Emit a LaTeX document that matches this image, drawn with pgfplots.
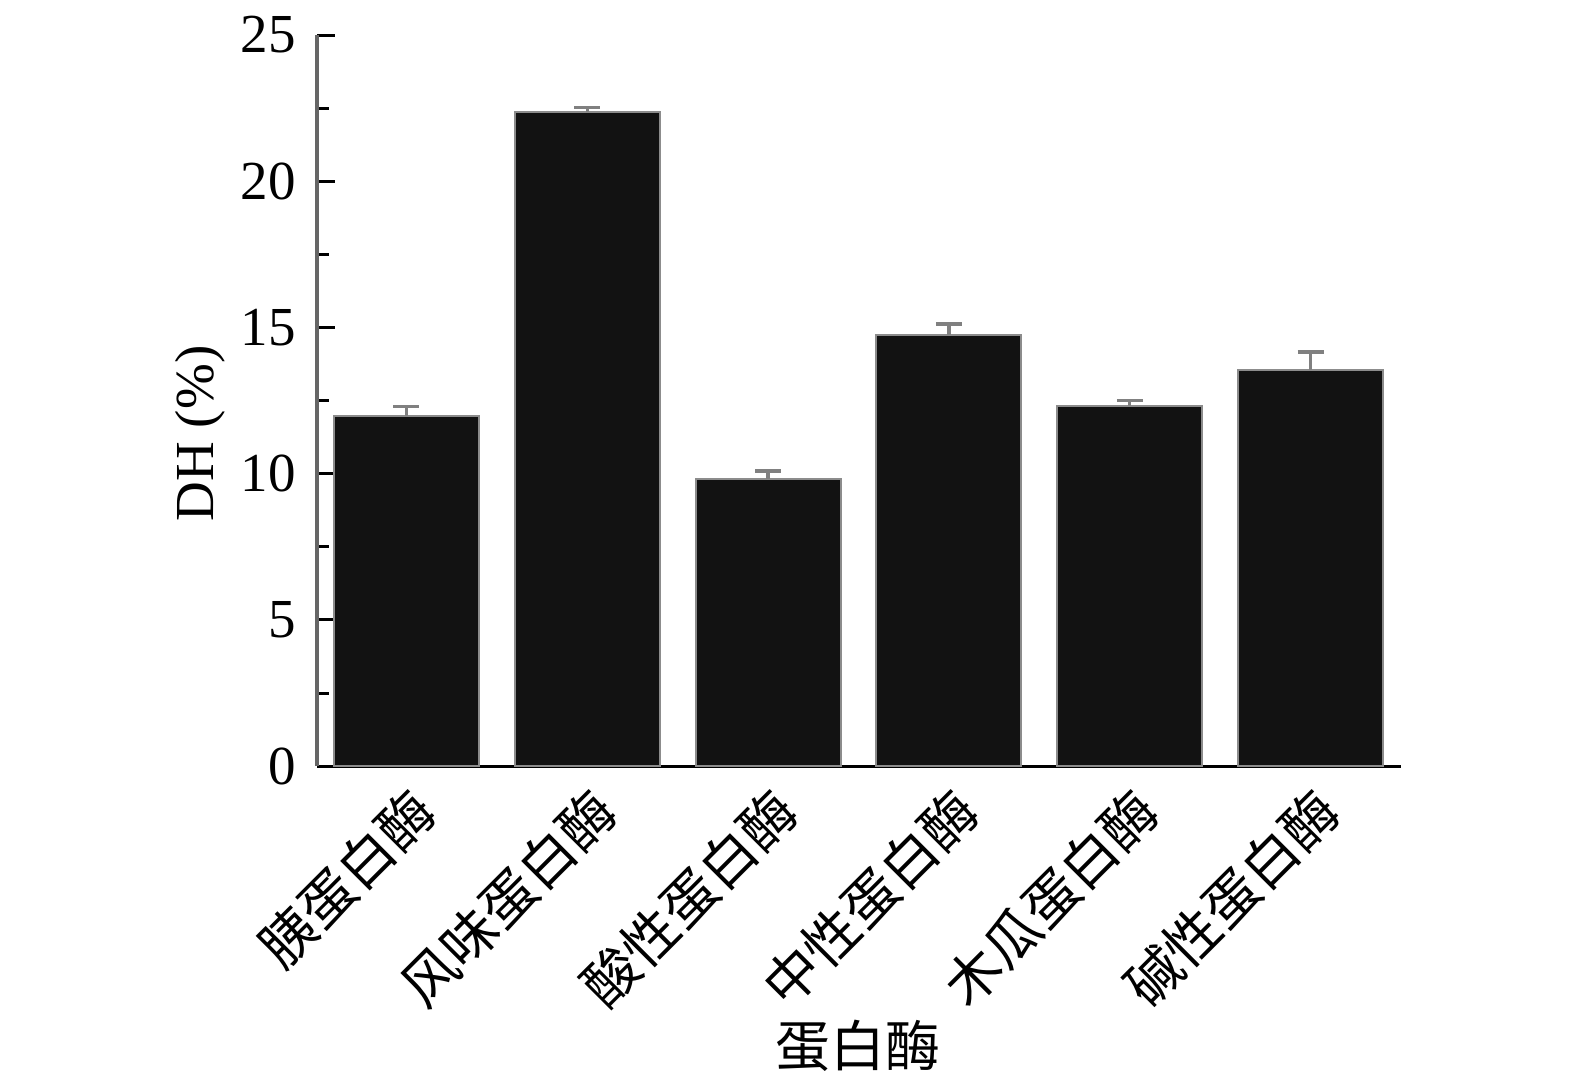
\documentclass[border=0pt]{standalone}
\usepackage{pgfplots}
\pgfplotsset{compat=1.18}
\usepackage{fontspec}
\setmainfont{Liberation Serif}
\newfontfamily\cjk{Noto Sans CJK SC}
\pgfplotstableread{
x y e
0 11.97 0.32
1 22.36 0.17
2 9.82 0.27
3 14.74 0.38
4 12.33 0.18
5 13.53 0.63
}\dhdata
\begin{document}
\begin{tikzpicture}
\begin{axis}[
  scale only axis, width=325pt, height=219.3pt,
  xmin=-0.492, xmax=5.5, ymin=0, ymax=25,
  clip=false,
  axis x line=bottom, axis y line=left,
  x axis line style={-, black, line width=0.9pt},
  y axis line style={-, black!60, line width=1.2pt},
  xtick={0,1,2,3,4,5},
  xticklabels={胰蛋白酶,风味蛋白酶,酸性蛋白酶,中性蛋白酶,木瓜蛋白酶,碱性蛋白酶},
  xtick style={draw=none},
  xticklabel style={font=\cjk\fontsize{16.5}{19}\selectfont, anchor=east, xshift=8pt, yshift=-8pt, rotate=45},
  ytick={0,5,10,15,20,25},
  minor ytick={2.5,7.5,12.5,17.5,22.5},
  tick align=inside,
  major tick length=5.4pt, minor tick length=3.6pt,
  ytick style={black, line width=0.9pt},
  yticklabel style={font=\fontsize{16.5}{19}\selectfont, xshift=-3pt},
  /pgf/number format/assume math mode=true,
  ylabel={DH (\%)},
  every axis y label/.style={at={(rel axis cs:-0.108,0.455)}, rotate=90, anchor=center, font=\fontsize{16.5}{19}\selectfont},
  xlabel={蛋白酶},
  every axis x label/.style={at={(rel axis cs:0.499,-0.382)}, anchor=center, font=\cjk\fontsize{16.5}{19}\selectfont},
]
\addplot[ybar, bar width=0.802, fill=black!93, draw=black!45, line width=0.6pt,
  error bars/.cd, y dir=plus, y explicit,
  error bar style={black!50, line width=1pt},
  error mark options={rotate=90, mark size=3.9pt, black!50, line width=1pt}]
  table[x=x, y=y, y error=e] {\dhdata};
\coordinate (bbl) at (rel axis cs:-0.293,-0.4337);
\coordinate (btr) at (rel axis cs:1.1606,1.0479);
\end{axis}
\path (bbl) rectangle (btr);
\end{tikzpicture}
\end{document}
